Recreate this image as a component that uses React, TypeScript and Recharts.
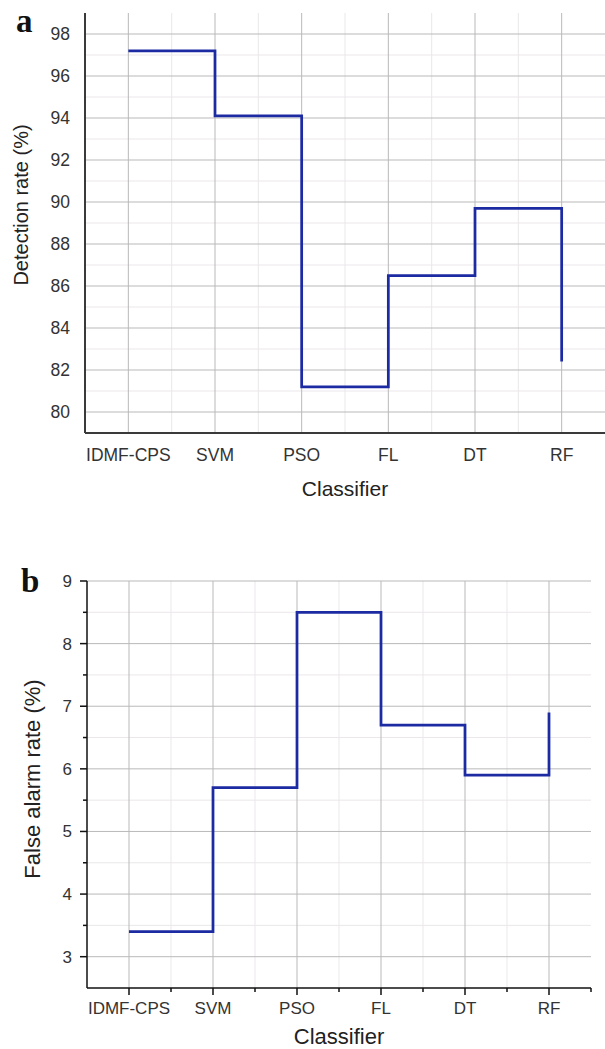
import { LineChart, Line, XAxis, YAxis, CartesianGrid } from "recharts";

const classifiers = ["IDMF-CPS", "SVM", "PSO", "FL", "DT", "RF"];
const detectionRate = [97.2, 94.1, 81.2, 86.5, 89.7, 82.4];
const falseAlarmRate = [3.4, 5.7, 8.5, 6.7, 5.9, 6.9];

// x positions are category indexes, minor lines sit half way between them
const classifierTicks = [0, 1, 2, 3, 4, 5];
const classifierMinorGrid = [0.5, 1.5, 2.5, 3.5, 4.5];
const classifierAllTicks = [0, 0.5, 1, 1.5, 2, 2.5, 3, 3.5, 4, 4.5, 5, 5.5];

const detTicks = [80, 82, 84, 86, 88, 90, 92, 94, 96, 98];
const detMinor = [81, 83, 85, 87, 89, 91, 93, 95, 97];
const farTicks = [3, 4, 5, 6, 7, 8, 9];
const farMinor = [3.5, 4.5, 5.5, 6.5, 7.5, 8.5];
const farAllTicks = [3, 3.5, 4, 4.5, 5, 5.5, 6, 6.5, 7, 7.5, 8, 8.5, 9];

const LINE = "#1d2ba3";
const MAJOR = "#b9b9b9";
const MINOR = "#ebe7ea";
const INK = "#111";
const FONT = "'Liberation Sans', Arial, sans-serif";

const detData = classifiers.map((name, i) => ({ i, name, value: detectionRate[i] }));
const farData = classifiers.map((name, i) => ({ i, name, value: falseAlarmRate[i] }));

const fmt = (v: number) => classifiers[v] ?? "";

// panel b draws its own major (7px) and minor (4px) tick marks
function BottomTick(props: any) {
  const { x, y, payload } = props;
  const v = payload.value as number;
  const major = Number.isInteger(v);
  return (
    <g>
      <line x1={x} x2={x} y1={y} y2={y + (major ? 7 : 4)} stroke={INK} strokeWidth={1.5} />
      {major && (
        <text x={x} y={y + 14} dy="0.71em" textAnchor="middle" fontSize={17} fill="#333">
          {classifiers[v]}
        </text>
      )}
    </g>
  );
}

function LeftTick(props: any) {
  const { x, y, payload } = props;
  const v = payload.value as number;
  const major = Number.isInteger(v);
  return (
    <g>
      <line x1={x - (major ? 7 : 4)} x2={x} y1={y} y2={y} stroke={INK} strokeWidth={1.5} />
      {major && (
        <text x={x - 15} y={y} dy="0.355em" textAnchor="end" fontSize={17} fill="#333">
          {v}
        </text>
      )}
    </g>
  );
}

function YTitle({ text, x, y, size }: { text: string; x: number; y: number; size: number }) {
  return (
    <div
      style={{
        position: "absolute",
        left: x,
        top: y,
        transform: "translate(-50%, -50%) rotate(-90deg)",
        whiteSpace: "nowrap",
        fontSize: size,
        lineHeight: 1,
        color: "#222",
      }}
    >
      {text}
    </div>
  );
}

function XTitle({ text, x, y, size }: { text: string; x: number; y: number; size: number }) {
  return (
    <div
      style={{
        position: "absolute",
        left: x,
        top: y,
        transform: "translate(-50%, -50%)",
        whiteSpace: "nowrap",
        fontSize: size,
        lineHeight: 1,
        color: "#222",
      }}
    >
      {text}
    </div>
  );
}

function PanelLetter({ text, x, y }: { text: string; x: number; y: number }) {
  return (
    <div
      style={{
        position: "absolute",
        left: x,
        top: y,
        fontFamily: "'Liberation Serif', 'Times New Roman', serif",
        fontWeight: "bold",
        fontSize: 33,
        lineHeight: 1,
        color: "#111",
      }}
    >
      {text}
    </div>
  );
}

export default function App() {
  return (
    <div
      style={{
        position: "absolute",
        left: 0,
        top: 0,
        width: 605,
        height: 1049,
        background: "#fff",
        fontFamily: FONT,
        overflow: "hidden",
      }}
    >
      {/* panel a */}
      <div style={{ position: "absolute", left: 0, top: 0 }}>
        <LineChart width={605} height={500} data={detData} margin={{ top: 13, right: 0, bottom: 0, left: 0 }}>
          <CartesianGrid stroke={MINOR} horizontalValues={detMinor} verticalValues={classifierMinorGrid} />
          <CartesianGrid stroke={MAJOR} horizontalValues={detTicks} verticalValues={classifierTicks} />
          <XAxis
            dataKey="i"
            type="number"
            domain={[-0.5, 5.5]}
            ticks={classifierTicks}
            tickFormatter={fmt}
            interval={0}
            height={67}
            tickLine={false}
            tickSize={0}
            tickMargin={16}
            axisLine={{ stroke: "#3a3a3a", strokeWidth: 2 }}
            tick={{ fontSize: 17.5, fill: "#333" }}
          />
          <YAxis
            type="number"
            domain={[79, 99]}
            ticks={detTicks}
            interval={0}
            width={85}
            tickLine={false}
            tickSize={0}
            tickMargin={15}
            axisLine={{ stroke: "#3a3a3a", strokeWidth: 2 }}
            tick={{ fontSize: 17.5, fill: "#333" }}
          />
          <Line
            type="stepAfter"
            dataKey="value"
            stroke={LINE}
            strokeWidth={2.75}
            dot={false}
            isAnimationActive={false}
          />
        </LineChart>
      </div>
      <PanelLetter text="a" x={16} y={5} />
      <YTitle text="Detection rate (%)" x={21} y={205} size={20} />
      <XTitle text="Classifier" x={345} y={488} size={21} />

      {/* panel b */}
      <div style={{ position: "absolute", left: 0, top: 540 }}>
        <LineChart width={605} height={509} data={farData} margin={{ top: 41, right: 14, bottom: 0, left: 0 }}>
          <CartesianGrid stroke={MINOR} horizontalValues={farMinor} verticalValues={classifierMinorGrid} />
          <CartesianGrid stroke={MAJOR} horizontalValues={farTicks} verticalValues={classifierTicks} />
          <XAxis
            dataKey="i"
            type="number"
            domain={[-0.5, 5.5]}
            ticks={classifierAllTicks}
            interval={0}
            height={61}
            tickSize={0}
            tickMargin={0}
            tickLine={false}
            axisLine={{ stroke: INK, strokeWidth: 1.5 }}
            tick={<BottomTick />}
          />
          <YAxis
            type="number"
            domain={[2.5, 9]}
            ticks={farAllTicks}
            interval={0}
            width={87}
            tickSize={0}
            tickMargin={0}
            tickLine={false}
            axisLine={{ stroke: INK, strokeWidth: 1.5 }}
            tick={<LeftTick />}
          />
          <Line
            type="stepAfter"
            dataKey="value"
            stroke={LINE}
            strokeWidth={2.75}
            dot={false}
            isAnimationActive={false}
          />
        </LineChart>
      </div>
      <PanelLetter text="b" x={21} y={565} />
      <YTitle text="False alarm rate (%)" x={33} y={779} size={22} />
      <XTitle text="Classifier" x={339} y={1037} size={22} />
    </div>
  );
}
